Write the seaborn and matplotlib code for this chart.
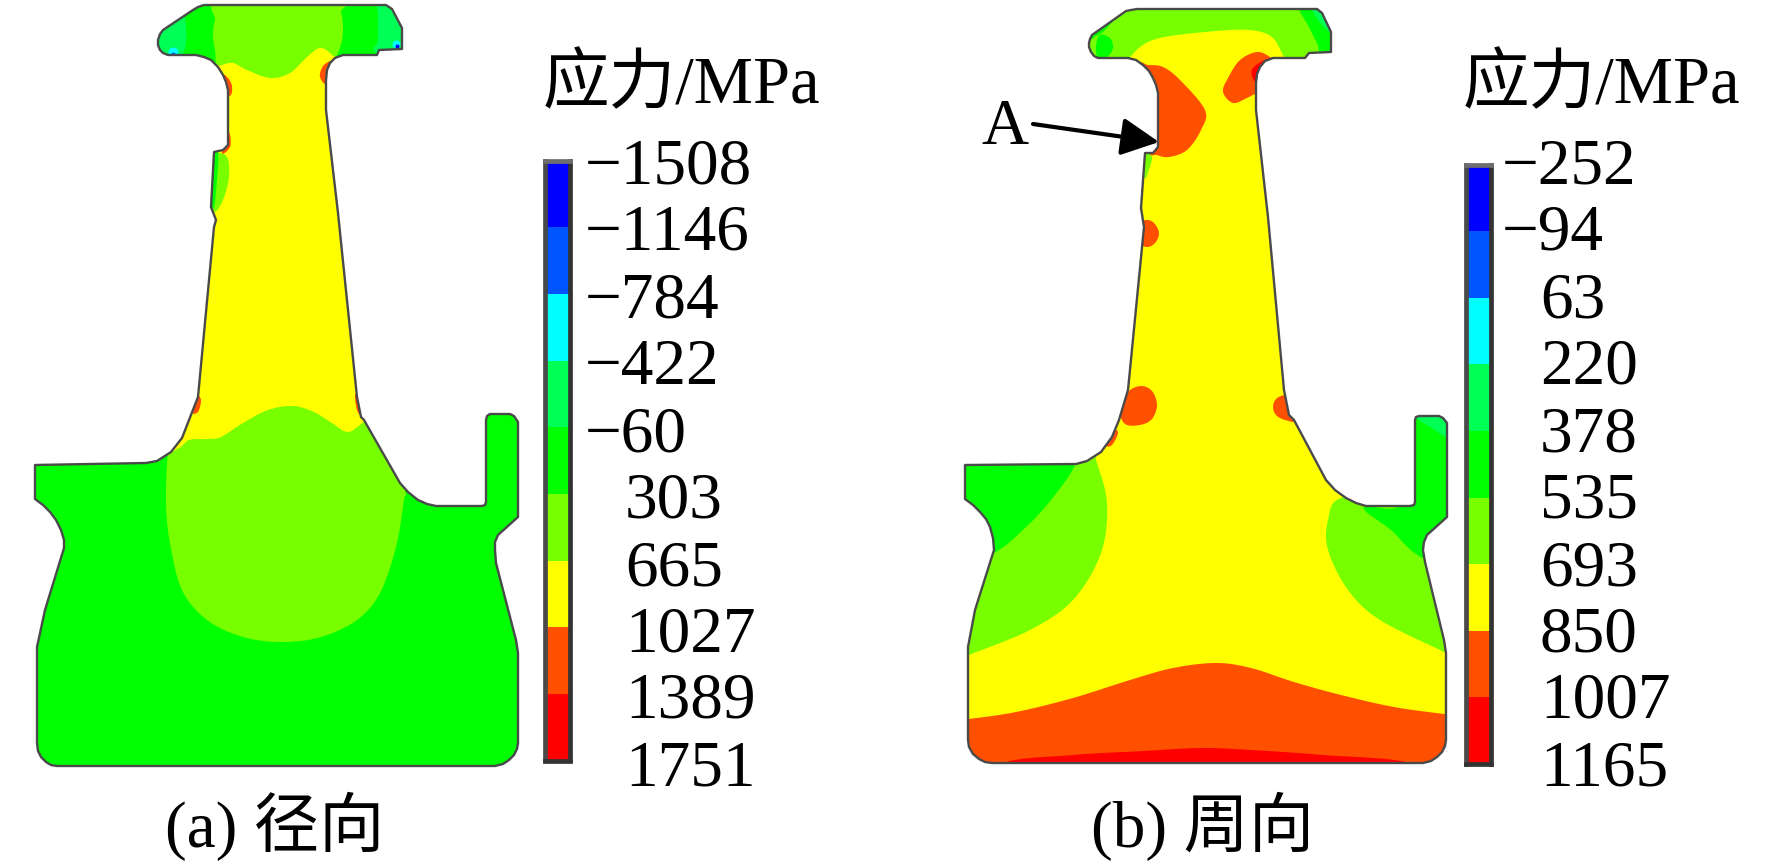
import numpy as np
import matplotlib
matplotlib.use("Agg")
import matplotlib.pyplot as plt
from matplotlib.colors import ListedColormap
from matplotlib.patches import Polygon
import seaborn as sns

# ---------- colour scale and labels ----------
band_colors = ["#0000ff", "#0055ff", "#00ffff", "#00ff55", "#00ff00",
               "#77ff00", "#ffff00", "#ff5000", "#ff0000"]
band_index = [0, 1, 2, 3, 4, 5, 6, 7, 8]
labels_a = ["−1508", "−1146", "−784", "−422", "−60", "303", "665", "1027", "1389", "1751"]
labels_b = ["−252", "−94", "63", "220", "378", "535", "693", "850", "1007", "1165"]
label_baselines = [183, 250, 317, 384, 452, 518, 585, 652, 718, 786]
BLUE, DBLUE, CYAN, SPRING, GREEN, LIME, YELLOW, ORANGE, RED = band_colors

# ---------- section outlines ----------
outline_a = [(204,5),(386,5),(392,9),(402,28),(402,49),(379,50),(377,55),(343,55),(335,58),(330,63),(327,70),(326,80),(326,110),
             (338,213),(357,397),(361,417),(364,420),(400,483),(408,492),(418,500),(427,504),(436,506),(482,506),(485,505),(486,502),(486,420),(487,416),
             (490,414),(510,414),(514,416),(518,422),(518,517),(498,535),(495,542),(495,550),(496,563),(516,640),(518,653),(518,743),
             (517,749),(514,755),(509,760),(503,764),(495,766),(57,766),(51,765),(46,762),(41,757),(38,751),(37,743),(37,647),(45,610),(64,548),(64,540),(61,530),
             (56,520),(50,512),(43,505),(35,499),(35,465),(146,463),(157,461),(171,452),(182,438),(189,420),(198,397),(214,227),
             (216,220),(211,207),(214,152),(223,150),(228,145),(228,90),(226,82),(223,75),(218,67),(211,60),(204,57),(196,55),(168,55),
             (163,53),(160,50),(158,45),(158,40),(160,34),(163,30),(193,10),(198,7)]
outline_b = [(1137,9),(1317,9),(1322,13),(1331,32),(1331,52),(1309,53),(1305,58),(1273,58),(1265,61),(1260,67),(1257,74),(1256,83),(1256,110),
             (1268,217),(1284,390),(1289,415),(1294,420),(1326,480),(1335,490),(1346,498),(1356,503),(1366,506),(1410,506),(1414,505),(1415,502),(1415,420),(1416,417),
             (1419,416),(1439,416),(1443,418),(1447,423),(1447,517),(1427,535),(1424,542),(1423,550),(1425,562),(1444,640),(1446,653),(1446,740),
             (1445,746),(1442,752),(1437,757),(1431,761),(1423,763),(992,763),(985,762),(979,759),(973,754),(969,747),(968,740),(968,647),(975,610),(994,550),(993,538),(990,527),
             (986,519),(980,512),(973,505),(965,499),(965,465),(1076,464),(1087,461),(1101,452),(1112,437),(1119,420),(1128,390),(1144,227),
             (1141,208),(1145,153),(1153,153),(1158,147),(1158,93),(1156,85),(1153,78),(1149,71),(1143,65),(1136,60),(1128,58),(1098,58),
             (1094,56),(1091,52),(1089,47),(1089,43),(1090,39),(1092,35),(1126,11),(1131,10)]

# ---------- stress regions of panel (a) ----------
a_head_lime = [(222,0),(215,20),(213,35),(215,50),(222,75),(270,90),(325,75),(337,55),(342,40),(343,25),(341,12),(338,0)]
a_tip_left = [(180,8),(185,18),(186,30),(186,42),(180,55),(150,60),(150,10)]
a_tip_right = [(380,0),(378,20),(378,40),(375,52),(408,56),(408,0)]
a_body_lime = [(168,453),(166,503),(170,543),(182,590),(207,620),(243,637),(282,642),(321,637),(357,620),(380,593),(396,547),
               (404,500),(405,490),(390,440),(360,400),(300,380),(220,390),(175,430)]
a_yellow = [(222,65),(233,63),(247,70),(270,78),(290,73),(307,57),(320,48),(332,55),(345,72),(350,150),(372,340),(378,415),
            (364,422),(348,432),(332,423),(314,412),(293,406),(268,410),(243,423),(221,437),(207,439),(189,440),(179,448),(165,448),
            (180,380),(196,220),(204,100),(208,70)]
a_stem_lime = [(216,152),(227,157),(229,177),(223,200),(214,212),(204,200),(204,150)]
a_stem_green = [(210,150),(218,153),(217,178),(214,207),(208,207)]
a_red_1 = [(222,75),(228,78),(232,86),(231,95),(226,94)]
a_red_2 = [(333,62),(325,64),(321,70),(320,77),(325,84),(334,82)]
a_red_3 = [(226,130),(230,135),(230,147),(222,153)]
a_red_4 = [(196,395),(201,400),(198,412),(192,412)]
a_red_5 = [(355,395),(359,398),(362,416),(357,410)]
a_layers = [(LIME, a_head_lime), (SPRING, a_tip_left), (SPRING, a_tip_right), (LIME, a_body_lime), (YELLOW, a_yellow),
            (LIME, a_stem_lime), (GREEN, a_stem_green), (ORANGE, a_red_1), (ORANGE, a_red_2), (ORANGE, a_red_3),
            (ORANGE, a_red_4), (ORANGE, a_red_5)]
a_spots = [(CYAN, (173,52), 5), (DBLUE, (173,54), 2), (CYAN, (396,44), 4), (BLUE, (397,46), 2)]

# ---------- stress regions of panel (b) ----------
b_head_lime = [(1132,55),(1140,47),(1153,40),(1177,35),(1230,30),(1257,31),(1273,38),(1283,55),(1290,66),(1305,75),(1345,60),(1345,0),(1075,0),(1075,70),(1110,68),(1124,62)]
b_tip_strip = [(1122,8),(1105,30),(1096,36),(1085,42),(1080,25),(1110,5)]
b_tip_blob = [(1100,35),(1110,38),(1113,48),(1108,56),(1098,58),(1096,46)]
b_tip_right = [(1300,3),(1309,27),(1317,43),(1322,54),(1345,58),(1345,3)]
b_tip_spring = [(1312,6),(1322,25),(1334,32),(1334,5)]
b_orange_left = [(1148,65),(1163,67),(1180,80),(1205,110),(1201,130),(1187,150),(1169,157),(1157,155),(1148,150),(1145,100),(1140,65)]
b_orange_right = [(1270,57),(1257,52),(1240,60),(1228,78),(1223,92),(1233,103),(1247,98),(1257,93),(1272,88),(1278,65)]
b_red_head = [(1265,60),(1253,68),(1252,76),(1257,83),(1263,70)]
b_spot_1 = [(1146,220),(1154,223),(1159,233),(1155,243),(1146,247),(1135,240),(1135,225)]
b_spot_2 = [(1141,386),(1152,391),(1157,405),(1152,419),(1140,425),(1125,424),(1120,410),(1128,392)]
b_spot_3 = [(1284,395),(1276,399),(1273,407),(1276,415),(1285,420),(1297,420),(1292,395)]
b_spot_4 = [(1113,430),(1118,433),(1112,445),(1106,445)]
b_stem_lime = [(1146,153),(1152,158),(1148,172),(1145,178),(1138,165)]
b_lime_left = [(1096,460),(1107,503),(1101,553),(1073,600),(1030,630),(969,655),(945,665),(945,450),(1090,445)]
b_green_left = [(1075,465),(1051,500),(1026,527),(994,553),(945,570),(945,450),(1070,450)]
b_lime_right = [(1341,498),(1328,520),(1328,550),(1348,590),(1380,620),(1444,652),(1470,665),(1470,520),(1400,495)]
b_green_right = [(1364,507),(1391,530),(1421,557),(1470,570),(1470,400),(1405,400),(1405,500)]
b_stub_spring = [(1414,414),(1432,428),(1448,436),(1452,412)]
b_orange_bottom = [(969,719),(1016,712),(1073,698),(1130,680),(1173,668),(1216,663),(1251,668),(1294,682),(1341,695),(1394,707),(1444,714),
                   (1475,718),(1475,795),(945,795),(945,722)]
b_red_bottom = [(1001,764),(1073,755),(1144,751),(1201,748),(1251,750),(1323,755),(1412,764),(1412,795),(1001,795)]
b_layers = [(LIME, b_head_lime), (GREEN, b_tip_strip), (GREEN, b_tip_blob), (GREEN, b_tip_right), (SPRING, b_tip_spring),
            (ORANGE, b_orange_left), (ORANGE, b_orange_right), (RED, b_red_head), (ORANGE, b_spot_1), (ORANGE, b_spot_2),
            (ORANGE, b_spot_3), (ORANGE, b_spot_4), (LIME, b_stem_lime), (LIME, b_lime_left), (GREEN, b_green_left),
            (LIME, b_lime_right), (GREEN, b_green_right), (SPRING, b_stub_spring), (ORANGE, b_orange_bottom), (RED, b_red_bottom)]

W, H = 1772, 867
sns.set_theme(style="white")
serif = ["Liberation Serif", "Noto Sans CJK SC", "DejaVu Sans"]
plt.rcParams["font.family"] = serif
FS = 47


def smooth(pts, n=10):
    """Closed Catmull-Rom curve through the read points."""
    p = np.asarray(pts, float)
    out = []
    m = len(p)
    for i in range(m):
        p0, p1, p2, p3 = p[(i-1) % m], p[i], p[(i+1) % m], p[(i+2) % m]
        for t in np.linspace(0, 1, n, endpoint=False):
            out.append(0.5*((2*p1) + (-p0+p2)*t + (2*p0-5*p1+4*p2-p3)*t**2 + (-p0+3*p1-3*p2+p3)*t**3))
    return np.array(out)


fig = plt.figure(figsize=(W/100, H/100), dpi=100, facecolor="white")
ax = fig.add_axes([0, 0, 1, 1])
ax.set_xlim(0, W)
ax.set_ylim(H, 0)
ax.axis("off")


def section(outline, base, layers, spots=()):
    clip = Polygon(outline, closed=True, facecolor=base, edgecolor="none", zorder=1)
    ax.add_patch(clip)
    for z, (col, pts) in enumerate(layers):
        xy = smooth(pts)
        poly = ax.fill(xy[:, 0], xy[:, 1], color=col, lw=0, zorder=2+z*0.01)[0]
        poly.set_clip_path(clip)
    for col, (x, y), r in spots:
        s = ax.scatter([x], [y], s=(2*r*0.72)**2, color=col, lw=0, zorder=3)
        s.set_clip_path(clip)
    ax.add_patch(Polygon(outline, closed=True, facecolor="none", edgecolor="#4a4a4a", lw=1.7, zorder=4, joinstyle="round"))


section(outline_a, GREEN, a_layers, a_spots)
section(outline_b, YELLOW, b_layers)


def colorbar(x0, x1, y0, y1):
    cax = fig.add_axes([x0/W, 1-y1/H, (x1-x0)/W, (y1-y0)/H])
    sns.heatmap(np.array(band_index).reshape(-1, 1), ax=cax, cmap=ListedColormap(band_colors),
                cbar=False, xticklabels=False, yticklabels=False, vmin=-0.5, vmax=8.5)
    cax.set_ylim(len(band_index), 0)
    for name, col in [("left", "#4a4a4a"), ("right", "#333333"), ("top", "#6e6e6e"), ("bottom", "#333333")]:
        cax.spines[name].set_visible(True)
        cax.spines[name].set_color(col)
        cax.spines[name].set_linewidth(3.4)


colorbar(544.5, 569.5, 160.5, 760.5)
colorbar(1465.5, 1490.5, 164.5, 764)


def txt(x, y, s, size=FS):
    ax.text(x, y, s, fontsize=size, color="black", ha="left", va="baseline", family=serif, zorder=6)


txt(543, 103, "应力/MPa", 48)
txt(1463, 103, "应力/MPa", 48)
for s, y in zip(labels_a, label_baselines):
    txt(585 if s.startswith("−") else 625, y, s)
for s, y in zip(labels_b, label_baselines):
    txt(1502 if s.startswith("−") else 1540, y, s)
txt(165, 847, "(a) 径向", 47)
txt(1091, 847, "(b) 周向", 47)
txt(981, 144, "A")
ax.annotate("", xy=(1159, 142), xytext=(1033, 124), zorder=7,
            arrowprops=dict(arrowstyle="-|>,head_length=1.0,head_width=0.5", color="black", lw=3,
                            mutation_scale=23, shrinkA=0, shrinkB=0))

fig.savefig("out.png", dpi=100, facecolor="white")
